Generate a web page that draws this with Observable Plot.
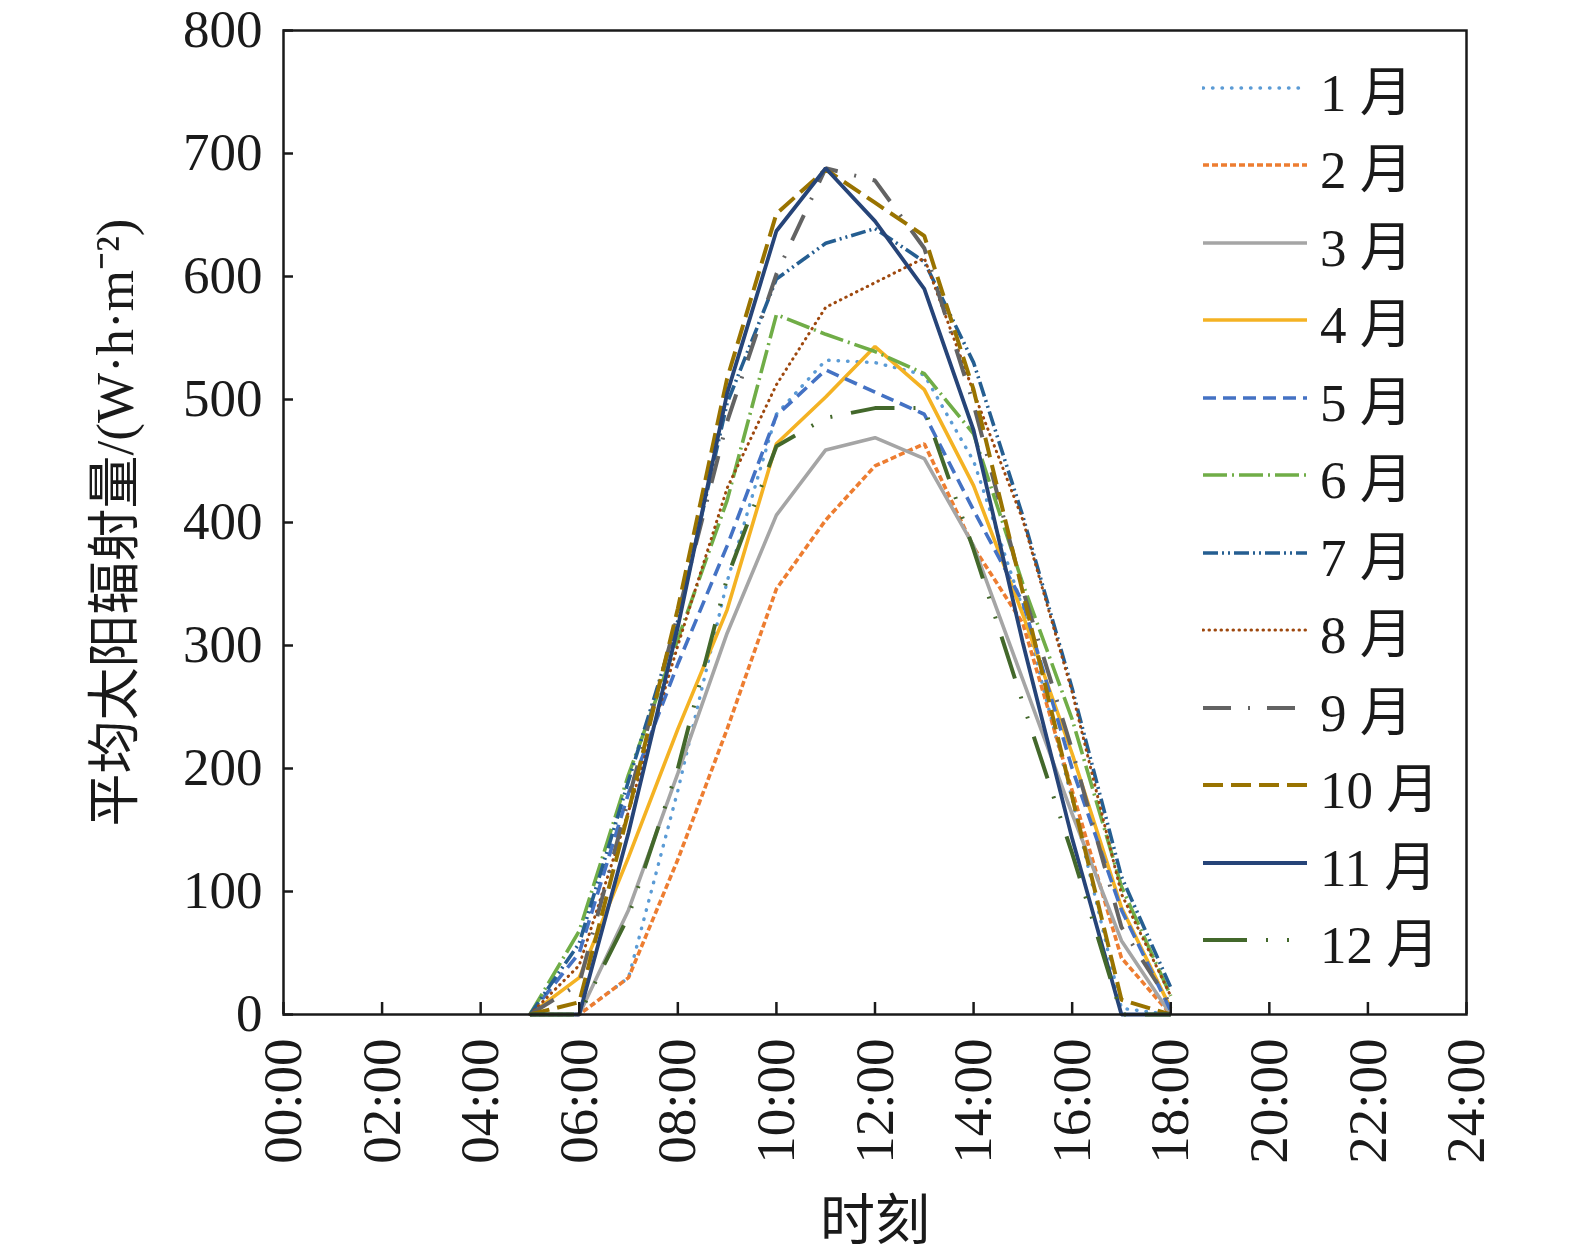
<!DOCTYPE html>
<html>
<head>
<meta charset="utf-8">
<script src="https://cdn.jsdelivr.net/npm/d3@7"></script>
<script src="https://cdn.jsdelivr.net/npm/@observablehq/plot@0.6"></script>
<style>
  html, body { margin: 0; padding: 0; background: #fff; overflow: hidden; }
  #wrap { position: relative; width: 1575px; height: 1258px; overflow: hidden; }
  #chart svg { display: block; max-width: none !important; width: 1575px !important; height: 1258px !important; }
  #legend { position: absolute; left: 1202px; top: 49px; font-family: "Liberation Serif", "Noto Sans CJK SC", serif; font-size: 53px; color: #1a1a1a; }
  .row { display: flex; align-items: center; height: 77.5px; }
  .row svg { width: 106px; height: 20px; margin-right: 12px; display: block; }
</style>
</head>
<body>
<div id="wrap"><div id="chart"></div><div id="legend"></div></div>
<script>
// ---- data ----
const hours = [5, 6, 7, 8, 9, 10, 11, 12, 13, 14, 15, 16, 17, 18];
const jan = [0, 0, 30, 182, 352, 488, 532, 530, 520, 450, 330, 175, 5, 0];
const feb = [0, 0, 30, 126, 232, 346, 402, 446, 464, 380, 318, 182, 46, 0];
const mar = [0, 0, 85, 196, 310, 406, 459, 469, 452, 381, 272, 163, 60, 0];
const apr = [0, 30, 128, 232, 329, 464, 502, 543, 508, 430, 325, 212, 87, 5];
const may = [0, 50, 180, 285, 381, 487, 524, 506, 488, 410, 335, 200, 85, 3];
const jun = [0, 68, 195, 305, 418, 569, 553, 539, 521, 472, 350, 240, 104, 15];
const jul = [0, 58, 190, 320, 497, 598, 627, 639, 612, 530, 405, 265, 112, 22];
const aug = [0, 40, 165, 300, 428, 512, 575, 595, 615, 506, 402, 262, 98, 15];
const sep = [0, 25, 175, 325, 482, 602, 688, 678, 623, 496, 345, 215, 71, 8];
const oct = [0, 10, 165, 330, 517, 651, 687, 660, 633, 508, 343, 177, 12, 0];
const nov = [0, 0, 148, 315, 505, 637, 688, 645, 590, 475, 302, 143, 0, 0];
const dec = [0, 0, 80, 200, 355, 462, 485, 493, 493, 378, 253, 131, 0, 0];

const monthLabels = ["1 月", "2 月", "3 月", "4 月", "5 月", "6 月", "7 月", "8 月", "9 月", "10 月", "11 月", "12 月"];
const xTicks = [0, 2, 4, 6, 8, 10, 12, 14, 16, 18, 20, 22, 24];
const xTickLabels = ["00:00", "02:00", "04:00", "06:00", "08:00", "10:00", "12:00", "14:00", "16:00", "18:00", "20:00", "22:00", "24:00"];
const yTicks = [0, 100, 200, 300, 400, 500, 600, 700, 800];
const xTitle = "时刻";
const yTitle = "平均太阳辐射量/(W·h·m⁻²)";

// ---- styles ----
const series = [jan, feb, mar, apr, may, jun, jul, aug, sep, oct, nov, dec];
const styles = [
  {stroke: "#5B9BD5", width: 3.4, dash: "0.5,9", cap: "round"},
  {stroke: "#ED7D31", width: 3.6, dash: "6,3", cap: "butt"},
  {stroke: "#A5A5A5", width: 3.6, dash: null, cap: "butt"},
  {stroke: "#F4B223", width: 3.6, dash: null, cap: "butt"},
  {stroke: "#4472C4", width: 3.6, dash: "13,7", cap: "butt"},
  {stroke: "#70AD47", width: 3.6, dash: "24,5,2,5", cap: "butt"},
  {stroke: "#255E91", width: 3.6, dash: "15,4,2,4,2,4", cap: "butt"},
  {stroke: "#9E480E", width: 3, dash: "0.5,5.5", cap: "round"},
  {stroke: "#636363", width: 4, dash: "28,17,2,17", cap: "butt"},
  {stroke: "#997300", width: 4, dash: "20,8", cap: "butt"},
  {stroke: "#264478", width: 3.8, dash: null, cap: "butt"},
  {stroke: "#43682B", width: 4, dash: "44,19,2,19,2,19", cap: "butt"}
];

const lineMarks = series.map((vals, i) => {
  const rows = hours.map((h, j) => ({h, v: vals[j]}));
  const s = styles[i];
  return Plot.line(rows, {
    x: "h", y: "v", stroke: s.stroke, strokeWidth: s.width,
    strokeDasharray: s.dash || undefined, strokeLinecap: s.cap, strokeLinejoin: "miter"
  });
});

const font = "'Liberation Serif', 'Noto Sans CJK SC', serif";

const chart = Plot.plot({
  width: 1575,
  height: 1258,
  marginLeft: 283,
  marginRight: 109,
  marginTop: 30,
  marginBottom: 244,
  style: {fontFamily: font, fontSize: "53px", color: "#1a1a1a", background: "#fff", overflow: "visible"},
  x: {domain: [0, 24]},
  y: {domain: [0, 800]},
  marks: [
    ...lineMarks,
    Plot.axisX({
      ticks: xTicks, tickFormat: (d) => xTickLabels[xTicks.indexOf(d)],
      tickRotate: -90, tickSize: -12, tickPadding: 36, strokeWidth: 2.5,
      fontSize: 55, label: xTitle, labelAnchor: "center", labelArrow: "none", labelOffset: 224
    }),
    Plot.axisY({
      ticks: yTicks, tickSize: -10, tickPadding: 31, strokeWidth: 2.5,
      fontSize: 53, label: yTitle, labelAnchor: "center", labelArrow: "none", labelOffset: 188
    }),
    Plot.frame({stroke: "#1a1a1a", strokeWidth: 2.5})
  ]
});
document.getElementById("chart").appendChild(chart);

// ---- legend ----
const legend = d3.select("#legend");
monthLabels.forEach((lab, i) => {
  const s = styles[i];
  const row = legend.append("div").attr("class", "row");
  const svg = row.append("svg").attr("viewBox", "0 0 106 20");
  svg.append("line").attr("x1", 1).attr("x2", 105).attr("y1", 10).attr("y2", 10)
    .attr("stroke", s.stroke).attr("stroke-width", s.width)
    .attr("stroke-dasharray", s.dash).attr("stroke-linecap", s.cap);
  row.append("span").text(lab);
});
</script>
</body>
</html>
